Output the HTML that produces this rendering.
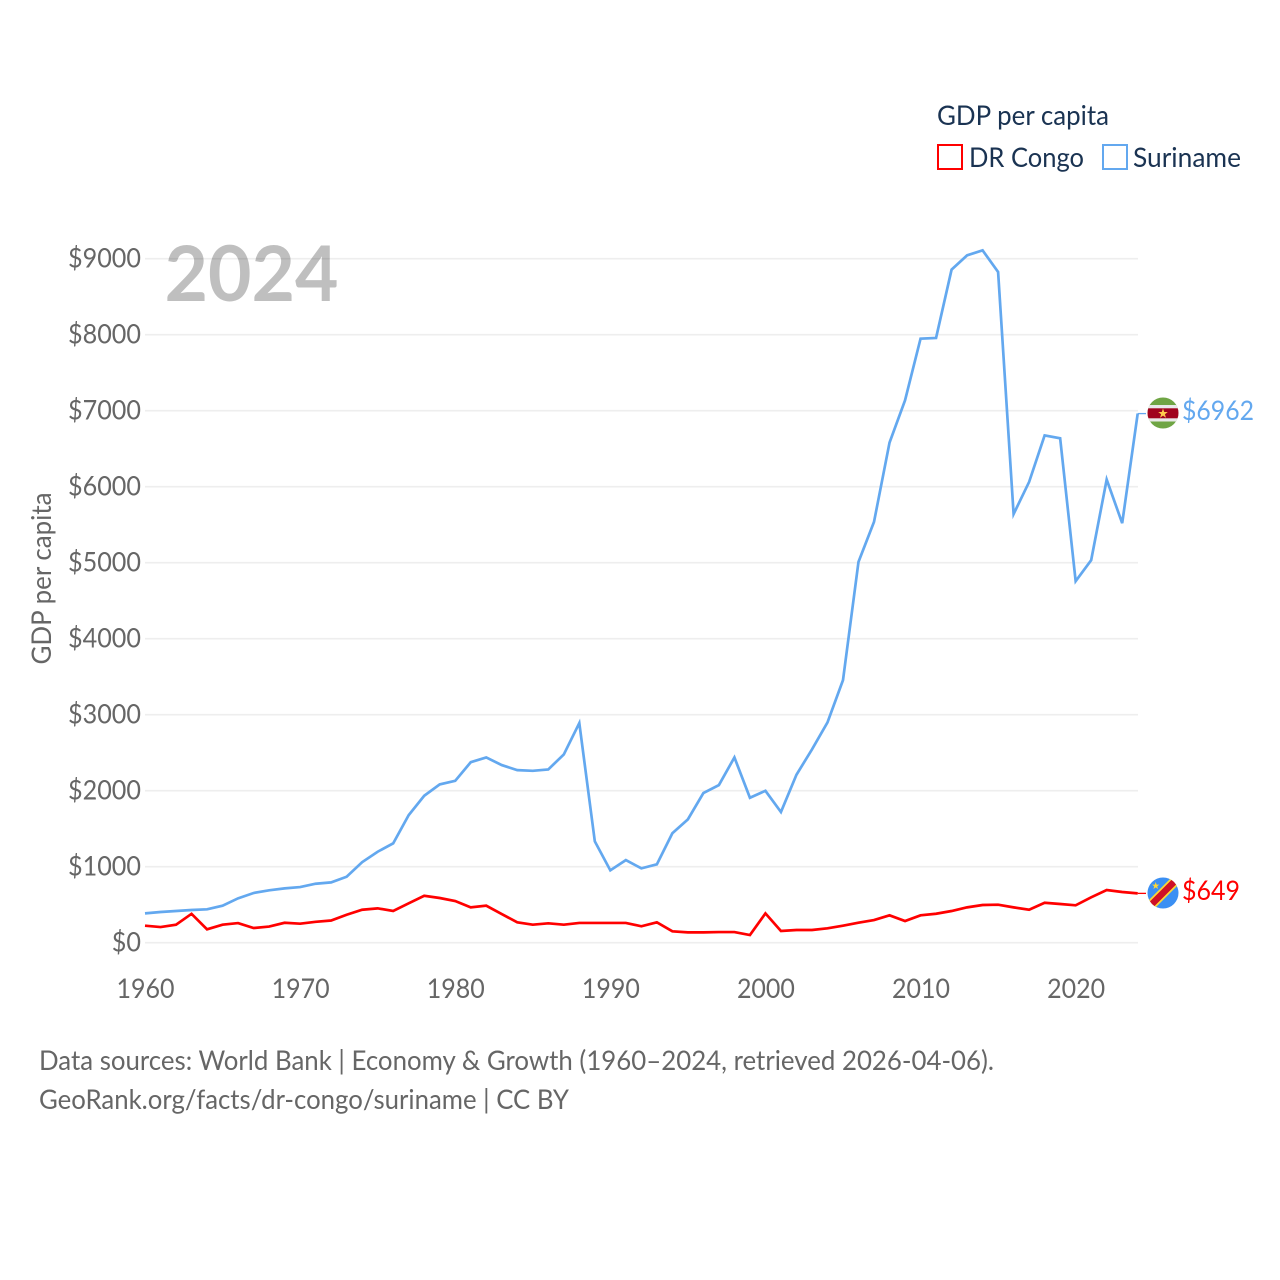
<!DOCTYPE html>
<html lang="en">
<head>
<meta charset="utf-8">
<title>GDP per capita: DR Congo and Suriname</title>
<style>
html,body{margin:0;padding:0;background:#fff;width:1280px;height:1280px;overflow:hidden}
svg{display:block}
text{font-family:"Lato","Carlito","Liberation Sans",sans-serif}
</style>
</head>
<body>
<svg id="chart" xmlns="http://www.w3.org/2000/svg" width="1280" height="1280" viewBox="0 0 1280 1280">
<defs>
<clipPath id="flag-clip-sr"><circle cx="1163" cy="413" r="15.5"/></clipPath>
<clipPath id="flag-clip-cd"><circle cx="1163" cy="893" r="15.5"/></clipPath>
</defs>
<rect width="1280" height="1280" fill="#fff"/>
<g id="grid"></g>
<g id="yticks"></g>
<g id="xticks"></g>
<text x="251.5" y="301" text-anchor="middle" font-size="77" font-weight="700" fill="#000" fill-opacity="0.25" textLength="174" lengthAdjust="spacingAndGlyphs">2024</text>
<text transform="translate(51 578.5) rotate(-90)" text-anchor="middle" font-size="27" fill="#666" textLength="172" lengthAdjust="spacingAndGlyphs">GDP per capita</text>
<g id="series"></g>

<g>
<text x="937" y="125" font-size="27" fill="#1a3352" textLength="172" lengthAdjust="spacingAndGlyphs">GDP per capita</text>
<g>
<rect x="938" y="145" width="24" height="24" fill="#fff" stroke="#ff0000" stroke-width="2"/>
<text x="969" y="167" font-size="27" fill="#1a3352" textLength="115" lengthAdjust="spacingAndGlyphs">DR Congo</text>
</g>
<g>
<rect x="1103" y="145" width="24" height="24" fill="#fff" stroke="#63a8ef" stroke-width="2"/>
<text x="1133" y="167" font-size="27" fill="#1a3352" textLength="108" lengthAdjust="spacingAndGlyphs">Suriname</text>
</g>
</g>

<g clip-path="url(#flag-clip-sr)">
<rect x="1147" y="397" width="32" height="32" fill="#6fa544"/>
<rect x="1147" y="405" width="32" height="16.5" fill="#e9e9e9"/>
<rect x="1147" y="408.3" width="32" height="10" fill="#a0041e"/>
<polygon points="1163,408.5 1164.2,412 1167.8,412 1164.9,414.2 1166,417.8 1163,415.6 1160,417.8 1161.1,414.2 1158.2,412 1161.8,412" fill="#ffcc4d"/>
</g>
<text x="1182" y="420" font-size="27" fill="#63a8ef" textLength="72" lengthAdjust="spacingAndGlyphs">$6962</text>

<g clip-path="url(#flag-clip-cd)">
<rect x="1147" y="877" width="32" height="32" fill="#3b8ff3"/>
<line x1="1146" y1="910" x2="1180" y2="876" stroke="#fdd835" stroke-width="10"/>
<line x1="1146" y1="910" x2="1180" y2="876" stroke="#ce1126" stroke-width="6.5"/>
<polygon points="1155.7,882 1156.6,884.6 1159.4,884.6 1157.2,886.2 1158,889 1155.7,887.4 1153.4,889 1154.2,886.2 1152,884.6 1154.8,884.6" fill="#fdd835"/>
</g>
<text x="1182" y="900" font-size="27" fill="#ff0000" textLength="58" lengthAdjust="spacingAndGlyphs">$649</text>

<text x="39" y="1070" font-size="27" fill="#666" textLength="955" lengthAdjust="spacingAndGlyphs">Data sources: World Bank | Economy &amp; Growth (1960–2024, retrieved 2026-04-06).</text>
<text x="39" y="1109" font-size="27" fill="#666" textLength="530" lengthAdjust="spacingAndGlyphs">GeoRank.org/facts/dr-congo/suriname | CC BY</text>
</svg>
<script>
const years = [1960,1961,1962,1963,1964,1965,1966,1967,1968,1969,1970,1971,1972,1973,1974,1975,1976,1977,1978,1979,1980,1981,1982,1983,1984,1985,1986,1987,1988,1989,1990,1991,1992,1993,1994,1995,1996,1997,1998,1999,2000,2001,2002,2003,2004,2005,2006,2007,2008,2009,2010,2011,2012,2013,2014,2015,2016,2017,2018,2019,2020,2021,2022,2023,2024];
const surinameValues = [386,404,417,430,439,487,584,654,689,715,732,776,794,868,1060,1197,1307,1679,1933,2083,2130,2375,2438,2337,2271,2262,2280,2477,2890,1333,952,1087,978,1031,1440,1623,1969,2074,2438,1907,1999,1719,2210,2543,2898,3455,5011,5537,6580,7137,7948,7957,8856,9044,9110,8825,5640,6063,6675,6637,4757,5033,6094,5520,6962];
const drCongoValues = [224,206,237,380,176,237,258,193,212,262,250,275,292,368,434,452,417,518,618,588,548,465,487,377,268,237,255,237,260,260,260,260,216,268,150,136,136,140,140,101,386,154,167,167,189,224,263,298,360,285,360,381,417,465,496,500,465,434,526,509,492,597,693,667,649];
const yTickValues = [0,1000,2000,3000,4000,5000,6000,7000,8000,9000];
const xTickYears = [1960,1970,1980,1990,2000,2010,2020];

const NS = 'http://www.w3.org/2000/svg';
function xScale(year){ return 145 + (year - 1960) * (1137.7 - 145) / 64; }
function yScale(value){ return 942.7 - value * (942.7 - 258.7) / 9000; }
function make(tag, attrs, parent){
  const el = document.createElementNS(NS, tag);
  for (const k in attrs) el.setAttribute(k, attrs[k]);
  parent.appendChild(el);
  return el;
}
const gridGroup = document.getElementById('grid');
const yTickGroup = document.getElementById('yticks');
const xTickGroup = document.getElementById('xticks');
const seriesGroup = document.getElementById('series');

yTickValues.forEach(function(v){
  const line = make('line', {x1:145, x2:1138, y1:yScale(v), y2:yScale(v), stroke:'#eeeeee', 'stroke-width':1.6}, gridGroup);
  
  
  const label = '$' + v;
  const t = make('text', {x:141, y:yScale(v) + 8.8, 'text-anchor':'end', 'font-size':27, fill:'#666', textLength:label.length * 14.6, lengthAdjust:'spacingAndGlyphs'}, yTickGroup);
  t.textContent = label;
  
  
});
xTickYears.forEach(function(y){
  const t = make('text', {x:xScale(y) + 0.5, y:998, 'text-anchor':'middle', 'font-size':27, fill:'#666', textLength:58, lengthAdjust:'spacingAndGlyphs'}, xTickGroup);
  t.textContent = String(y);
  
  
});
function pathFor(values){
  return values.map(function(v, i){ return (i ? 'L' : 'M') + xScale(years[i]).toFixed(2) + ' ' + yScale(v).toFixed(2); }).join(' ');
}
const surinameLine = make('path', {d:pathFor(surinameValues), fill:'none', stroke:'#63a8ef', 'stroke-width':2.7, 'stroke-linejoin':'miter'}, seriesGroup);


const drCongoLine = make('path', {d:pathFor(drCongoValues), fill:'none', stroke:'#ff0000', 'stroke-width':2.7, 'stroke-linejoin':'miter'}, seriesGroup);



const lastX = xScale(years[years.length - 1]);
const surinameEnd = surinameValues[surinameValues.length - 1];
const drCongoEnd = drCongoValues[drCongoValues.length - 1];
const surinameLead = make('line', {x1:lastX, x2:1146, y1:yScale(surinameEnd), y2:yScale(surinameEnd), stroke:'#63a8ef', 'stroke-width':1.3}, seriesGroup);


const drCongoLead = make('line', {x1:lastX, x2:1146, y1:yScale(drCongoEnd), y2:yScale(drCongoEnd), stroke:'#ff0000', 'stroke-width':1.3}, seriesGroup);


</script>
</body>
</html>
